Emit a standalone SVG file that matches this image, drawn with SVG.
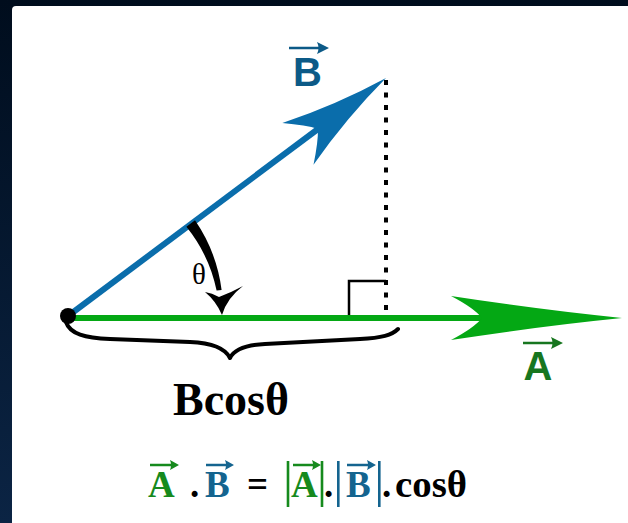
<svg xmlns="http://www.w3.org/2000/svg" width="628" height="523" viewBox="0 0 628 523">
<defs>
<linearGradient id="bg" x1="0" y1="0" x2="0" y2="1">
<stop offset="0" stop-color="#000d1d"/>
<stop offset="1" stop-color="#0b2444"/>
</linearGradient>
</defs>
<style>
.lbl{font-family:"Liberation Sans",Arial,sans-serif;font-weight:bold;font-size:40px}
.eq{font-family:"Liberation Serif","Times New Roman",serif;font-weight:bold;font-size:37px}
.g{fill:#168a1d}
.b{fill:#14648f}
.k{fill:#000}
.vec{stroke-width:2.5;fill:none}
</style>
<rect x="0" y="0" width="628" height="523" fill="url(#bg)"/>
<rect x="12" y="6" width="640" height="540" rx="4" fill="#ffffff"/>

<g id="connectors">
<line x1="386" y1="80" x2="386" y2="312" stroke="#000" stroke-width="4" stroke-dasharray="5 7.5"/>
<path d="M349,316 V281 H386" fill="none" stroke="#000" stroke-width="2.5"/>
<path d="M66,322 C70,334 85,338 110,339 L190,342 C215,343 226,350 230,358 C234,350 245,345 265,344 L360,339 C382,338 392,335 398,329" fill="none" stroke="#000" stroke-width="4" stroke-linecap="round" stroke-linejoin="round"/>
</g>

<g id="vectorA">
<line x1="68" y1="318" x2="485" y2="318" stroke="#04a814" stroke-width="6"/>
<path transform="translate(622,318)" d="M0,0 Q-80,-8 -171,-22 Q-148,-10 -140,0 Q-148,10 -171,22 Q-80,8 0,0 Z" fill="#04a814"/>
</g>

<g id="vectorB">
<line x1="68" y1="316" x2="320" y2="127.5" stroke="#0a6dab" stroke-width="6"/>
<path transform="translate(386,78) rotate(-36.8)" d="M0,0 Q-55,-8 -110,-26 Q-92,-10 -85,0 Q-92,10 -110,26 Q-55,8 0,0 Z" fill="#0a6dab"/>
</g>

<g id="origin">
<circle cx="68" cy="316" r="8" fill="#000"/>
</g>

<g id="angle">
<path d="M195,220.3 A159,159 0 0 1 221.6,290 L216.6,290.6 A150,150 0 0 0 186.4,226.8 Z" fill="#000"/>
<path d="M222,315 Q227,298 243,286 Q232,292 219,297 Q212,293 205,292 Q216,301 222,315 Z" fill="#000"/>
<text x="199" y="284" text-anchor="middle" font-family="Liberation Serif,'Times New Roman',serif" font-size="29" fill="#000">θ</text>
</g>

<g id="labelB">
<path class="vec" d="M289,48 H322" stroke="#0c5a87"/>
<path d="M329,48 L317,42 Q320,48 317,54 Z" fill="#0c5a87"/>
<text x="307.5" y="86" text-anchor="middle" class="lbl" fill="#0c5a87">B</text>
</g>

<g id="labelA">
<path class="vec" d="M523,343 H556" stroke="#17761f"/>
<path d="M563,343 L551,337 Q554,343 551,349 Z" fill="#17761f"/>
<text x="538" y="380" text-anchor="middle" class="lbl" fill="#17761f">A</text>
</g>

<g id="bcos">
<text x="231" y="415" text-anchor="middle" font-family="Liberation Serif,'Times New Roman',serif" font-weight="bold" font-size="47" textLength="116" lengthAdjust="spacingAndGlyphs" fill="#000">Bcosθ</text>
</g>

<g id="equation">
<text x="148" y="497" class="eq g">A</text>
<path class="vec" d="M150,465 H173" stroke="#168a1d"/>
<path d="M179,465 L170,460 Q172,465 170,470 Z" fill="#168a1d"/>
<text x="190" y="497" class="eq k">.</text>
<text x="205" y="497" class="eq b">B</text>
<path class="vec" d="M206,465 H228" stroke="#14648f"/>
<path d="M234,465 L225,460 Q227,465 225,470 Z" fill="#14648f"/>
<text x="247" y="497" class="eq k">=</text>
<rect x="286.7" y="461" width="2.6" height="46" fill="#168a1d"/>
<text x="291" y="497" class="eq g">A</text>
<path class="vec" d="M293,465 H315" stroke="#168a1d"/>
<path d="M321,465 L312,460 Q314,465 312,470 Z" fill="#168a1d"/>
<rect x="320.7" y="461" width="2.6" height="46" fill="#168a1d"/>
<text x="324" y="497" class="eq k">.</text>
<rect x="337" y="461" width="2.6" height="46" fill="#14648f"/>
<text x="346" y="497" class="eq b">B</text>
<path class="vec" d="M347,465 H370" stroke="#14648f"/>
<path d="M376,465 L367,460 Q369,465 367,470 Z" fill="#14648f"/>
<rect x="378" y="461" width="2.6" height="46" fill="#14648f"/>
<text x="382" y="497" class="eq k">.</text>
<text x="395" y="497" class="eq k" textLength="72" lengthAdjust="spacingAndGlyphs">cosθ</text>
</g>
</svg>
